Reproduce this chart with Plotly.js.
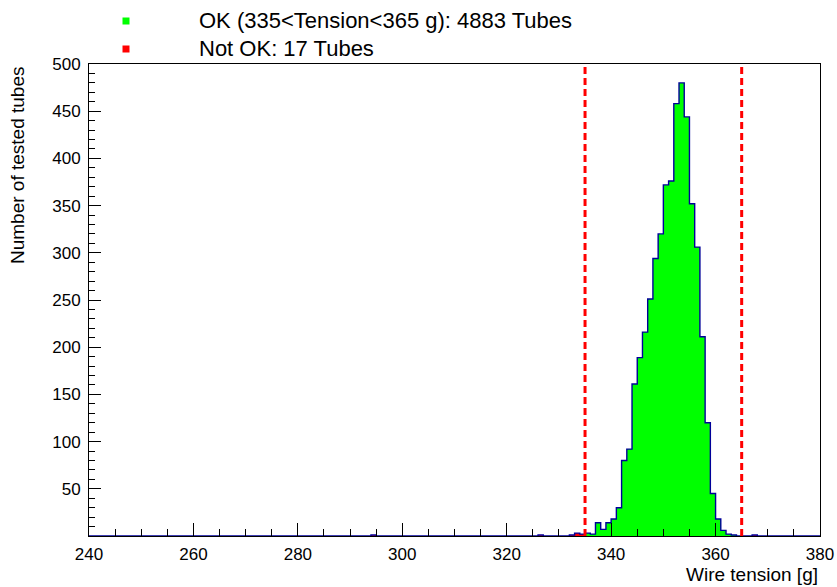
<!DOCTYPE html>
<html><head><meta charset="utf-8">
<script src="https://cdn.plot.ly/plotly-3.0.1.min.js"></script>
<style>html,body{margin:0;padding:0;background:#fff}#chart{width:837px;height:587px}</style>
</head><body><div id="chart"></div>
<script>
// Histogram bins (lower edge, width 1 g) and counts
const binLow = [294, 326, 332, 333, 334, 335, 336, 337, 338, 339, 340, 341, 342, 343, 344, 345, 346, 347, 348, 349, 350,
                351, 352, 353, 354, 355, 356, 357, 358, 359, 360, 361, 362, 363, 367];
const tubes  = [1, 1, 1, 3, 2, 3, 2, 14, 7, 14, 18, 30, 80, 92, 161, 189, 216, 251, 294, 320, 372,
                376, 458, 480, 444, 352, 306, 211, 120, 45, 18, 6, 2, 1, 1];
const xRange = [240, 380];
const yRange = [0, 500];
const limits = [335, 365];
const xTicks = [240, 260, 280, 300, 320, 340, 360, 380];
const yTicks = [50, 100, 150, 200, 250, 300, 350, 400, 450, 500];
const legendLabels = ["OK (335<Tension<365 g): 4883 Tubes", "Not OK: 17 Tubes"];
const xTitle = "Wire tension [g]";
const yTitle = "Number of tested tubes";

const binWidth = 1;
const nBins = Math.round((xRange[1] - xRange[0]) / binWidth);
const full = new Array(nBins).fill(0);
binLow.forEach((lo, i) => { full[Math.round((lo - xRange[0]) / binWidth)] += tubes[i]; });
const edges = full.map((_, i) => xRange[0] + i * binWidth);
const stepX = edges.concat([xRange[1]]);
const stepY = full.concat([full[nBins - 1]]);
const isOK = lo => lo >= limits[0] && lo < limits[1];
const GREEN = '#00ff00', RED = '#ff0000', NAVY = '#000099';

const font = 'Liberation Sans, Arial, Helvetica, sans-serif';

const traces = [
  {
    type: 'bar',
    x: binLow.map(lo => lo + binWidth / 2),
    y: tubes,
    width: binWidth,
    marker: {color: binLow.map(lo => isOK(lo) ? GREEN : RED), line: {width: 0}},
    showlegend: false,
    hoverinfo: 'x+y'
  },
  {
    type: 'scatter',
    mode: 'lines',
    x: stepX,
    y: stepY,
    line: {shape: 'hv', color: NAVY, width: 1.4},
    showlegend: false,
    hoverinfo: 'skip'
  }
];

const L = 89, R = 17, T = 64, B = 51, W = 837, H = 587;
const pw = W - L - R, ph = H - T - B;
const px2x = px => (px - L) / pw;
const py2y = py => (H - B - py) / ph;

const legendY = [20, 48];
const legendColors = [GREEN, RED];

const shapes = limits.map(v => ({
  type: 'line', xref: 'x', yref: 'paper', x0: v, x1: v, y0: 0, y1: 1,
  line: {color: RED, width: 3, dash: '7px,4px'}
}));
legendY.forEach((py, i) => shapes.push({
  type: 'rect', xref: 'paper', yref: 'paper', xsizemode: 'pixel', ysizemode: 'pixel',
  xanchor: px2x(126), yanchor: py2y(py + 1), x0: -3.5, x1: 3.5, y0: -3.5, y1: 3.5,
  fillcolor: legendColors[i], line: {width: 0}
}));

const annotations = legendLabels.map((t, i) => ({
  text: t, xref: 'paper', yref: 'paper', x: px2x(197), y: py2y(legendY[i]),
  xanchor: 'left', yanchor: 'middle', showarrow: false,
  font: {family: font, size: 22, color: '#000'}
}));
annotations.push({
  text: xTitle, xref: 'paper', yref: 'paper', x: 1, y: py2y(574),
  xanchor: 'right', yanchor: 'middle', showarrow: false,
  font: {family: font, size: 19, color: '#000'}
});
annotations.push({
  text: yTitle, xref: 'paper', yref: 'paper', x: px2x(17), y: 1,
  xanchor: 'center', yanchor: 'top', textangle: -90, showarrow: false,
  font: {family: font, size: 19, color: '#000'}
});

const layout = {
  width: W, height: H,
  margin: {l: L, r: R, t: T, b: B, pad: 0},
  paper_bgcolor: '#fff', plot_bgcolor: '#fff',
  bargap: 0,
  font: {family: font, size: 17, color: '#000'},
  xaxis: {
    range: xRange, tickmode: 'array', tickvals: xTicks, ticktext: xTicks.map(String),
    ticks: 'inside', ticklen: 13, tickwidth: 1, tickcolor: '#000',
    minor: {tickmode: 'linear', tick0: xRange[0], dtick: 5, ticks: 'inside', ticklen: 7, tickcolor: '#000', tickwidth: 1, showgrid: false},
    showline: true, linecolor: '#000', linewidth: 1, mirror: true,
    showgrid: false, zeroline: false, tickfont: {size: 17}, ticklabelstandoff: 3
  },
  yaxis: {
    range: yRange, tickmode: 'array', tickvals: yTicks, ticktext: yTicks.map(String),
    ticks: 'inside', ticklen: 12, tickwidth: 1, tickcolor: '#000',
    minor: {tickmode: 'linear', tick0: 0, dtick: 10, ticks: 'inside', ticklen: 6, tickcolor: '#000', tickwidth: 1, showgrid: false},
    showline: true, linecolor: '#000', linewidth: 1, mirror: true,
    showgrid: false, zeroline: false, tickfont: {size: 17}, ticklabelstandoff: 4
  },
  shapes: shapes,
  annotations: annotations,
  showlegend: false
};

Plotly.newPlot('chart', traces, layout, {displayModeBar: false, staticPlot: true});
</script>
</body></html>
